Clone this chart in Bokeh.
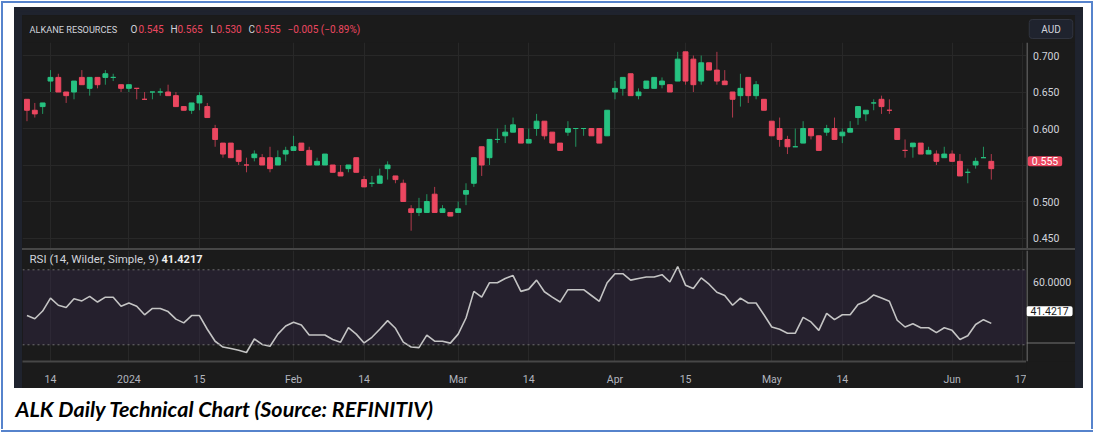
from bokeh.plotting import figure
from bokeh.models import (Range1d, FixedTicker, BoxAnnotation, Span, Label, Spacer,
                          ColumnDataSource)
from bokeh.layouts import column, row
from bokeh.core.properties import value
from bokeh.embed import file_html
from bokeh.resources import INLINE

# ---------------- data ----------------
first_index = -3   # bar index of first candle (index 0 = 14 Dec 2023)
opens = [0.640, 0.625, 0.630, 0.665, 0.670, 0.650, 0.650, 0.670, 0.655, 0.670,
         0.670, 0.670, 0.660, 0.655, 0.655, 0.640, 0.650, 0.650, 0.650, 0.645,
         0.630, 0.625, 0.635, 0.630, 0.600, 0.580, 0.580, 0.570, 0.550, 0.560,
         0.560, 0.560, 0.550, 0.565, 0.570, 0.580, 0.570, 0.550, 0.550, 0.550,
         0.540, 0.545, 0.560, 0.530, 0.525, 0.525, 0.545, 0.535, 0.525, 0.490,
         0.485, 0.485, 0.510, 0.485, 0.485, 0.485, 0.510, 0.525, 0.575, 0.560,
         0.585, 0.590, 0.595, 0.600, 0.580, 0.600, 0.610, 0.595, 0.580, 0.595,
         0.600, 0.600, 0.600, 0.600, 0.590, 0.650, 0.655, 0.675, 0.645, 0.655,
         0.655, 0.660, 0.660, 0.665, 0.705, 0.695, 0.665, 0.690, 0.680, 0.665,
         0.650, 0.645, 0.670, 0.645, 0.640, 0.610, 0.600, 0.585, 0.575, 0.580,
         0.600, 0.590, 0.595, 0.600, 0.590, 0.595, 0.615, 0.620, 0.635, 0.640,
         0.625, 0.600, 0.570, 0.575, 0.580, 0.565, 0.565, 0.560, 0.565, 0.555,
         0.540, 0.550, 0.560, 0.545]
highs = [0.640, 0.635, 0.635, 0.680, 0.675, 0.650, 0.665, 0.680, 0.670, 0.670,
         0.680, 0.675, 0.660, 0.660, 0.655, 0.650, 0.650, 0.655, 0.660, 0.650,
         0.630, 0.635, 0.650, 0.635, 0.605, 0.580, 0.580, 0.570, 0.560, 0.570,
         0.565, 0.575, 0.570, 0.575, 0.590, 0.580, 0.575, 0.560, 0.565, 0.550,
         0.550, 0.550, 0.560, 0.535, 0.535, 0.545, 0.555, 0.535, 0.530, 0.495,
         0.505, 0.510, 0.520, 0.495, 0.485, 0.500, 0.525, 0.560, 0.575, 0.585,
         0.600, 0.605, 0.615, 0.600, 0.600, 0.620, 0.610, 0.595, 0.580, 0.610,
         0.600, 0.600, 0.600, 0.600, 0.625, 0.665, 0.670, 0.675, 0.655, 0.665,
         0.670, 0.670, 0.660, 0.705, 0.705, 0.700, 0.700, 0.690, 0.705, 0.680,
         0.650, 0.675, 0.670, 0.665, 0.640, 0.610, 0.615, 0.590, 0.600, 0.610,
         0.600, 0.590, 0.605, 0.615, 0.600, 0.610, 0.630, 0.625, 0.640, 0.645,
         0.640, 0.600, 0.585, 0.580, 0.580, 0.575, 0.570, 0.575, 0.570, 0.565,
         0.545, 0.560, 0.575, 0.565]
lows = [0.610, 0.615, 0.620, 0.650, 0.650, 0.635, 0.640, 0.660, 0.645, 0.655,
        0.660, 0.665, 0.650, 0.650, 0.640, 0.640, 0.640, 0.645, 0.645, 0.630,
        0.625, 0.620, 0.625, 0.615, 0.575, 0.560, 0.560, 0.550, 0.540, 0.555,
        0.550, 0.540, 0.550, 0.555, 0.570, 0.570, 0.550, 0.550, 0.550, 0.540,
        0.535, 0.540, 0.540, 0.520, 0.520, 0.525, 0.530, 0.525, 0.500, 0.460,
        0.480, 0.485, 0.485, 0.485, 0.480, 0.485, 0.495, 0.520, 0.535, 0.550,
        0.580, 0.580, 0.595, 0.580, 0.580, 0.590, 0.585, 0.580, 0.570, 0.590,
        0.575, 0.590, 0.590, 0.580, 0.590, 0.640, 0.645, 0.645, 0.640, 0.655,
        0.655, 0.655, 0.650, 0.665, 0.660, 0.650, 0.660, 0.680, 0.660, 0.660,
        0.615, 0.630, 0.635, 0.640, 0.625, 0.590, 0.575, 0.565, 0.575, 0.580,
        0.585, 0.570, 0.590, 0.585, 0.580, 0.595, 0.605, 0.610, 0.625, 0.620,
        0.620, 0.585, 0.560, 0.560, 0.565, 0.565, 0.550, 0.560, 0.555, 0.535,
        0.525, 0.545, 0.560, 0.530]
closes = [0.625, 0.620, 0.635, 0.670, 0.650, 0.645, 0.665, 0.660, 0.670, 0.660,
          0.675, 0.670, 0.655, 0.660, 0.655, 0.640, 0.650, 0.650, 0.645, 0.630,
          0.625, 0.635, 0.645, 0.615, 0.585, 0.565, 0.560, 0.555, 0.550, 0.565,
          0.550, 0.545, 0.560, 0.570, 0.575, 0.570, 0.550, 0.555, 0.565, 0.540,
          0.535, 0.550, 0.540, 0.520, 0.525, 0.535, 0.550, 0.530, 0.500, 0.485,
          0.490, 0.500, 0.485, 0.490, 0.480, 0.490, 0.515, 0.560, 0.550, 0.585,
          0.585, 0.595, 0.605, 0.580, 0.585, 0.610, 0.590, 0.580, 0.570, 0.600,
          0.600, 0.600, 0.590, 0.580, 0.625, 0.655, 0.670, 0.645, 0.650, 0.665,
          0.670, 0.665, 0.650, 0.695, 0.665, 0.660, 0.690, 0.680, 0.665, 0.660,
          0.640, 0.655, 0.645, 0.660, 0.625, 0.590, 0.585, 0.575, 0.575, 0.600,
          0.590, 0.570, 0.600, 0.585, 0.595, 0.600, 0.630, 0.625, 0.635, 0.630,
          0.625, 0.585, 0.570, 0.580, 0.565, 0.570, 0.555, 0.565, 0.555, 0.535,
          0.540, 0.555, 0.560, 0.555]
direction = list("dduuddudud" "uududduudd" "duuddddddu" "dduuudduud"
                 "dudduuuddd" "uududuuudu" "uuuduudddu" "uudduuuduu"
                 "uududduddd" "dududdddu" "u" "dduduuuuud" "dddudududd" "uuud")
rsi = [45.6, 43.9, 48.0, 54.9, 51.1, 49.9, 54.6, 53.4, 55.8, 52.8,
       55.4, 55.4, 50.6, 52.3, 50.6, 46.0, 49.4, 49.4, 47.7, 43.7,
       41.7, 45.6, 45.6, 38.3, 31.9, 28.8, 28.0, 27.1, 25.9, 33.1,
       30.2, 29.2, 35.7, 40.0, 42.0, 40.5, 35.2, 35.2, 35.2, 32.8,
       31.4, 39.1, 35.7, 31.0, 34.0, 38.3, 42.9, 38.8, 31.4, 28.8,
       28.5, 35.2, 31.9, 31.9, 30.9, 35.7, 44.3, 58.5, 55.4, 63.1,
       63.1, 65.4, 66.9, 58.5, 59.7, 64.5, 58.3, 55.4, 52.8, 59.4,
       59.4, 59.4, 56.3, 53.2, 63.1, 67.9, 67.9, 64.5, 65.4, 66.2,
       66.2, 67.4, 63.5, 71.7, 61.8, 60.0, 65.7, 62.3, 58.0, 56.3,
       51.1, 54.9, 52.3, 52.3, 46.0, 39.5, 38.3, 36.2, 36.2, 44.6,
       42.2, 37.7, 46.8, 43.4, 46.0, 46.0, 51.5, 53.2, 56.6, 54.9,
       53.2, 43.1, 39.5, 41.2, 39.1, 39.1, 36.5, 39.1, 37.7, 32.8,
       34.8, 40.8, 43.4, 41.4217]
tick_index = [0, 10, 19, 31, 40, 52, 61, 72, 81, 92, 101, 115, 124]
tick_labels = ["14", "2024", "15", "Feb", "14", "Mar", "14", "Apr", "15", "May", "14", "Jun", "17"]
price_ticks = [0.45, 0.50, 0.60, 0.65, 0.70]
price_grid = [0.45, 0.50, 0.55, 0.60, 0.65, 0.70]
rsi_ticks = [60]
rsi_levels = [30, 70]
ticker_name = "ALKANE RESOURCES"
currency = "AUD"
rsi_name = "RSI (14, Wilder, Simple, 9)"
caption = "ALK Daily Technical Chart (Source: REFINITIV)"

# ---------------- styling ----------------
BG = "#1b1b1b"
NAVY = "#1f232e"
GRID = "#282828"
SEP = "#474747"
AXIS_LINE = "#8c8c8c"
TXT = "#d1d4dc"
TXT2 = "#b2b5be"
UP = "#26c281"
DOWN = "#eb4760"
UP_WICK = "#22935f"
DOWN_WICK = "#b03a4c"
FRAME_BLUE = "#5683cc"
FONT = "Roboto"

xs = list(range(first_index, first_index + len(opens)))
src = ColumnDataSource(dict(
    x=xs,
    top=[max(o, c) for o, c in zip(opens, closes)],
    bottom=[min(o, c) for o, c in zip(opens, closes)],
    high=highs, low=lows,
    fill=[UP if d == "u" else DOWN for d in direction],
    wick=[UP_WICK if d == "u" else DOWN_WICK for d in direction],
))

x_range = Range1d(-3.57, 124.49)
price_range = Range1d(0.43562, 0.71781)
rsi_range = Range1d(21.094, 80.296)
RSI_FRAME_H, RSI_AXIS_H = 115, 23


def base_fig(w, h, color, **kw):
    return figure(width=w, height=h, output_backend="svg", toolbar_location=None,
                  background_fill_color=color, border_fill_color=color,
                  outline_line_color=None, styles={"background-color": color}, **kw)


def block(w, h, color):
    f = base_fig(w, h, color, x_range=Range1d(0, 1), y_range=Range1d(0, 1),
                 x_axis_location=None, y_axis_location=None, min_border=0)
    f.grid.visible = False
    return f


def txt_label(fig, x, y, text, color, size="10.5px", style="normal", align="left",
              y_units="screen", **kw):
    fig.add_layout(Label(x=x, y=y, x_units="screen", y_units=y_units, text=text,
                         text_color=color, text_font=FONT, text_font_size=size,
                         text_font_style=style, text_align=align,
                         text_baseline="middle", **kw))


# ---------------- header strip ----------------
header = block(1053, 27, BG)
chg = closes[-1] - closes[-2]
pct = chg / closes[-2] * 100
txt_label(header, 7, 13.5, ticker_name, TXT, size="9.2px")
parts = [
    (108, "O", TXT), (116, f"{opens[-1]:.3f}", DOWN),
    (148, "H", TXT), (155, f"{highs[-1]:.3f}", DOWN),
    (188, "L", TXT), (194, f"{lows[-1]:.3f}", DOWN),
    (226, "C", TXT), (233, f"{closes[-1]:.3f}", DOWN),
    (265, f"{chg:+.3f} ({pct:+.2f}%)".replace("-", "\u2212"), DOWN),
]
for xpos, t, col in parts:
    txt_label(header, xpos, 13.5, t, col, size="10px")
txt_label(header, 1028.5, 13.5, currency, TXT, size="10px", align="center",
          background_fill_color=NAVY, border_line_color="#30343f",
          padding=(12, 4), border_radius=3)

# ---------------- price panel ----------------
p = base_fig(1004, 206, BG, x_range=x_range, y_range=price_range,
             x_axis_location=None, y_axis_location=None, min_border=0)
p.xgrid.ticker = FixedTicker(ticks=tick_index)
p.ygrid.ticker = FixedTicker(ticks=price_grid)
p.grid.grid_line_color = GRID
p.segment(x0="x", y0="low", x1="x", y1="high", line_color="wick", line_width=1, source=src)
p.vbar(x="x", top="top", bottom="bottom", width=0.62, fill_color="fill",
       line_color="fill", line_width=1, source=src)

# price scale (right)
ps = base_fig(49, 206, BG, x_range=Range1d(0, 1), y_range=price_range,
              x_axis_location=None, y_axis_location=None, min_border=0)
ps.grid.visible = False
ps.add_layout(Span(location=0.5, location_units="screen", dimension="height",
                   line_color=AXIS_LINE, line_width=1))
for t in price_ticks:
    txt_label(ps, 6.5, t, f"{t:.3f}", TXT, y_units="data")
txt_label(ps, 18.5, closes[-1], f"{closes[-1]:.3f}", "white", align="center",
          y_units="data", background_fill_color=DOWN, padding=(4, 1), border_radius=2)

# ---------------- RSI panel ----------------
r = base_fig(1004, RSI_FRAME_H + RSI_AXIS_H, BG, x_range=x_range, y_range=rsi_range,
             x_axis_location="below", y_axis_location=None,
             min_border_left=0, min_border_right=0, min_border_top=0,
             min_border_bottom=RSI_AXIS_H)
r.xgrid.ticker = FixedTicker(ticks=tick_index)
r.xgrid.grid_line_color = GRID
r.ygrid.grid_line_color = None
r.add_layout(BoxAnnotation(bottom=rsi_levels[0], top=rsi_levels[1], fill_color="#3a2b52",
                           fill_alpha=0.33, line_color=None, level="underlay"))
for lvl in rsi_levels:
    r.add_layout(Span(location=lvl, dimension="width", line_color="#6e6e6e",
                      line_dash="2 3", line_width=1))
r.line(xs, rsi, line_color="#c4c4c4", line_width=1.6)

r.xaxis.ticker = FixedTicker(ticks=tick_index)
r.xaxis.major_label_overrides = {i: lab for i, lab in zip(tick_index, tick_labels)}
r.xaxis.axis_line_color = SEP
r.xaxis.axis_line_width = 2
r.xaxis.major_tick_line_color = None
r.xaxis.minor_tick_line_color = None
r.xaxis.major_label_standoff = 5
r.xaxis.major_label_text_color = TXT2
r.xaxis.major_label_text_font = FONT
r.xaxis.major_label_text_font_size = "10.5px"

txt_label(r, 7, 102.5, rsi_name, TXT, size="11.5px")
txt_label(r, 139, 102.5, f"{rsi[-1]:.4f}", "#eeeeee", size="11px", style="bold")

# RSI scale (right): same value-to-pixel mapping, frame extended through the date row
px_per_rsi = RSI_FRAME_H / (rsi_range.end - rsi_range.start)
rs_range = Range1d(rsi_range.end - (RSI_FRAME_H + RSI_AXIS_H) / px_per_rsi, rsi_range.end)
rs = base_fig(49, RSI_FRAME_H + RSI_AXIS_H, BG, x_range=Range1d(0, 1), y_range=rs_range,
              x_axis_location=None, y_axis_location=None, min_border=0)
rs.grid.visible = False
rs.add_layout(Span(location=rsi_range.start, dimension="width", line_color=SEP, line_width=2))
rs.add_layout(Span(location=0.5, location_units="screen", dimension="height",
                   line_color=AXIS_LINE, line_width=1))
for t in rsi_ticks:
    txt_label(rs, 6.5, t, f"{t:.4f}", TXT, y_units="data")
txt_label(rs, 23, rsi[-1], f"{rsi[-1]:.4f}", "#1b1b1b", align="center", y_units="data",
          background_fill_color="white", padding=(4, 1), border_radius=2)

# ---------------- caption ----------------
cap = base_fig(1088, 42, "white", x_range=Range1d(0, 1088), y_range=Range1d(0, 42),
               x_axis_location=None, y_axis_location=None, min_border=0)
cap.grid.visible = False
cap.text(x=[12], y=[22], text=[caption], text_font=value("Lato"), text_font_style="bold italic",
         text_font_size="21.5px", text_color="black", text_baseline="middle")

# ---------------- layout (page origin at 0,0; total 1093 x 432) ----------------
inner = column(
    header,
    row(p, ps, spacing=0, styles={"background-color": BG}),
    block(1053, 2, SEP),
    row(r, rs, spacing=0, styles={"background-color": BG}),
    spacing=0, styles={"background-color": BG})
chart_block = column(
    block(1069, 8, NAVY),
    row(block(8, 373, NAVY), inner, block(8, 373, NAVY), spacing=0,
        styles={"background-color": BG}),
    spacing=0, styles={"background-color": BG})
content = column(
    Spacer(width=1088, height=4),
    row(Spacer(width=11, height=381), chart_block, Spacer(width=8, height=381), spacing=0),
    cap,
    spacing=0)
framed = column(
    block(1092, 2, FRAME_BLUE),
    row(block(2, 426, FRAME_BLUE), content, block(2, 426, FRAME_BLUE), spacing=0),
    block(1092, 2, FRAME_BLUE),
    spacing=0)
layout = column(Spacer(width=1093, height=1),
                row(Spacer(width=1, height=430), framed, spacing=0),
                spacing=0)

open("out.html", "w").write(file_html(layout, INLINE))
